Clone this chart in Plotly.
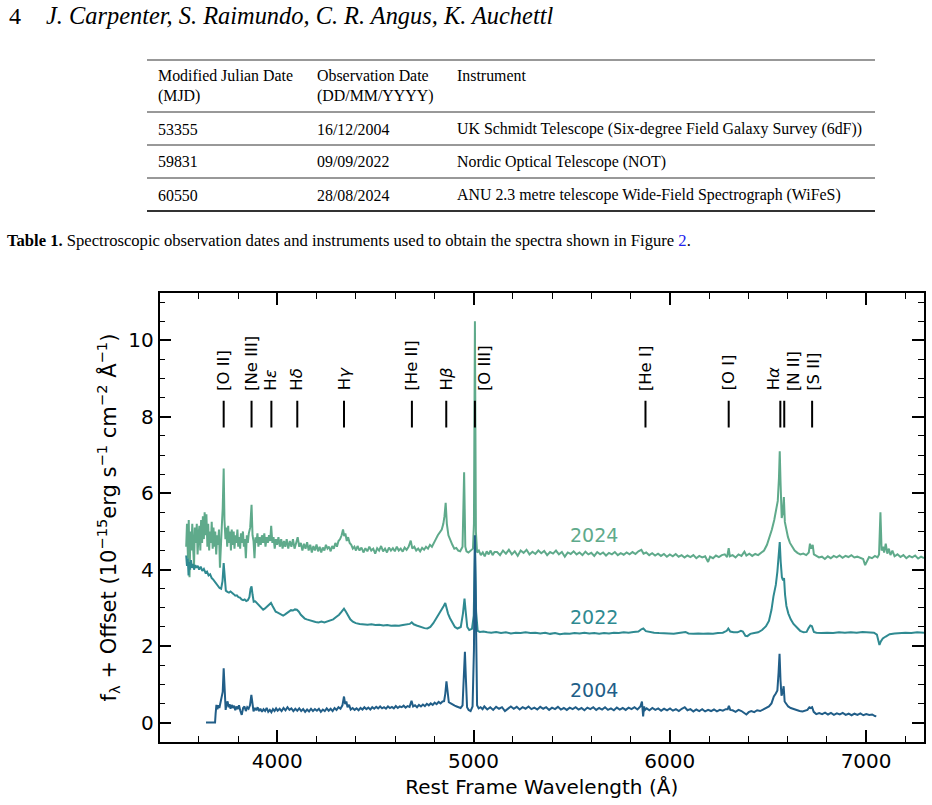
import plotly.graph_objects as go

W, H = 932, 805

# ---------------- data ----------------
years = ["2024", "2022", "2004"]
colors = ["#5faa8b", "#2f8a91", "#215e88"]

wave_2024 = [3536, 3540, 3545, 3549, 3553, 3558, 3562, 3567, 3571, 3576, 3580, 3585, 3590, 3594, 3599, 3603, 3608, 3612, 3617, 3621,
             3626, 3630, 3635, 3639, 3644, 3648, 3653, 3657, 3662, 3666, 3671, 3675, 3680, 3684, 3689, 3694, 3698, 3703, 3708, 3713,
             3718, 3722, 3727, 3731, 3736, 3740, 3745, 3750, 3754, 3759, 3764, 3768, 3773, 3778, 3782, 3787, 3792, 3797, 3801, 3806,
             3811, 3815, 3820, 3825, 3830, 3835, 3840, 3845, 3850, 3855, 3862, 3869, 3874, 3879, 3884, 3889, 3894, 3899, 3904, 3910,
             3916, 3922, 3928, 3934, 3940, 3946, 3952, 3958, 3964, 3969, 3975, 3981, 3987, 3993, 3999, 4006, 4013, 4020, 4027, 4034,
             4041, 4048, 4056, 4064, 4072, 4080, 4088, 4096, 4104, 4112, 4120, 4128, 4136, 4144, 4152, 4160, 4168, 4176, 4184, 4192,
             4200, 4208, 4216, 4224, 4232, 4240, 4248, 4256, 4264, 4272, 4280, 4288, 4296, 4304, 4312, 4320, 4328, 4335, 4341, 4347,
             4354, 4361, 4369, 4377, 4385, 4393, 4401, 4409, 4419, 4429, 4439, 4449, 4459, 4469, 4479, 4489, 4499, 4509, 4519, 4529,
             4539, 4549, 4559, 4569, 4579, 4589, 4599, 4609, 4619, 4629, 4639, 4649, 4659, 4669, 4680, 4688, 4698, 4708, 4718, 4728,
             4738, 4748, 4758, 4768, 4778, 4788, 4798, 4808, 4818, 4828, 4838, 4846, 4852, 4858, 4864, 4872, 4882, 4892, 4902, 4912,
             4922, 4932, 4944, 4952, 4958, 4964, 4974, 4986, 4997, 5002, 5007, 5012, 5018, 5027, 5037, 5047, 5057, 5067, 5077, 5087,
             5097, 5107, 5120, 5135, 5150, 5165, 5180, 5195, 5210, 5225, 5240, 5255, 5270, 5285, 5300, 5315, 5330, 5345, 5360, 5375,
             5390, 5405, 5420, 5435, 5450, 5465, 5480, 5495, 5510, 5525, 5540, 5555, 5570, 5585, 5600, 5615, 5630, 5645, 5660, 5675,
             5690, 5705, 5720, 5735, 5750, 5765, 5780, 5795, 5810, 5825, 5840, 5855, 5866, 5880, 5895, 5910, 5925, 5940, 5955, 5970,
             5985, 6000, 6015, 6030, 6045, 6060, 6075, 6090, 6105, 6120, 6135, 6150, 6165, 6180, 6195, 6205, 6220, 6235, 6250, 6265,
             6280, 6292, 6300, 6306, 6320, 6335, 6350, 6365, 6380, 6390, 6405, 6420, 6435, 6450, 6465, 6480, 6495, 6508, 6520, 6532,
             6542, 6550, 6556, 6560, 6564, 6570, 6576, 6581, 6586, 6594, 6602, 6612, 6624, 6636, 6650, 6665, 6680, 6695, 6708, 6714,
             6720, 6728, 6734, 6745, 6760, 6775, 6790, 6805, 6820, 6835, 6850, 6865, 6880, 6895, 6910, 6925, 6940, 6955, 6970, 6985,
             6995, 7005, 7015, 7030, 7045, 7058, 7066, 7073, 7079, 7086, 7092, 7100, 7108, 7116, 7124, 7134, 7145, 7160, 7175, 7190,
             7205, 7220, 7235, 7250, 7265, 7280, 7295]
flux_2024 = [4.6, 5.2, 4.3, 5.3, 3.8, 5.0, 4.5, 5.2, 4.6, 4.1, 5.1, 4.7, 5.2, 4.4, 4.9, 5.15, 4.5, 5.3, 4.7, 5.4,
             4.8, 5.5, 4.9, 5.45, 4.6, 5.2, 4.5, 5.0, 4.7, 5.25, 4.55, 5.1, 4.6, 5.0, 4.4, 4.9, 4.65, 5.05, 4.05, 4.9,
             5.2, 5.6, 6.65, 5.3, 4.8, 5.1, 4.6, 5.15, 4.7, 5.0, 4.5, 5.05, 4.65, 5.0, 4.55, 4.9, 4.7, 5.05, 4.6, 4.85,
             4.55, 4.95, 4.7, 5.0, 4.6, 4.8, 4.3, 4.9, 4.7, 4.95, 5.1, 5.7, 4.9, 4.75, 4.3, 4.85, 4.7, 4.95, 4.6, 4.85,
             4.65, 4.9, 4.7, 4.95, 4.6, 4.85, 4.7, 4.9, 4.75, 5.15, 4.7, 4.85, 4.55, 4.8, 4.65, 4.85, 4.6, 4.8, 4.55, 4.75,
             4.6, 4.8, 4.55, 4.75, 4.6, 4.8, 4.55, 4.7, 4.85, 4.6, 4.7, 4.5, 4.68, 4.55, 4.72, 4.5, 4.65, 4.45, 4.62, 4.5,
             4.66, 4.48, 4.6, 4.45, 4.58, 4.5, 4.65, 4.55, 4.6, 4.48, 4.62, 4.55, 4.7, 4.6, 4.75, 4.8, 4.9, 5.05, 4.88, 4.95,
             4.75, 4.85, 4.7, 4.65, 4.55, 4.6, 4.5, 4.62, 4.5, 4.58, 4.45, 4.56, 4.48, 4.6, 4.5, 4.55, 4.42, 4.56, 4.5, 4.62,
             4.48, 4.55, 4.45, 4.58, 4.5, 4.56, 4.48, 4.6, 4.5, 4.55, 4.47, 4.58, 4.52, 4.6, 4.76, 4.55, 4.6, 4.5, 4.55, 4.48,
             4.57, 4.52, 4.6, 4.55, 4.65, 4.6, 4.72, 4.8, 4.9, 4.98, 5.05, 5.2, 5.4, 5.75, 5.2, 4.9, 4.75, 4.65, 4.55, 4.57,
             4.5, 4.48, 4.6, 6.55, 4.6, 4.48, 4.45, 4.5, 4.55, 5.2, 10.5, 5.0, 4.45, 4.5, 4.38, 4.45, 4.35, 4.48, 4.4, 4.5,
             4.38, 4.46, 4.46, 4.38, 4.5, 4.42, 4.52, 4.4, 4.48, 4.36, 4.5, 4.44, 4.52, 4.4, 4.47, 4.41, 4.5, 4.43, 4.49, 4.38,
             4.46, 4.42, 4.5, 4.4, 4.46, 4.34, 4.45, 4.41, 4.48, 4.4, 4.45, 4.38, 4.47, 4.4, 4.44, 4.36, 4.46, 4.4, 4.45, 4.37,
             4.44, 4.4, 4.46, 4.38, 4.43, 4.39, 4.45, 4.4, 4.46, 4.41, 4.48, 4.52, 4.42, 4.45, 4.38, 4.43, 4.37, 4.42, 4.36, 4.41,
             4.34, 4.4, 4.35, 4.41, 4.34, 4.38, 4.32, 4.37, 4.33, 4.38, 4.3, 4.36, 4.32, 4.35, 4.2, 4.34, 4.3, 4.37, 4.33, 4.38,
             4.4, 4.33, 4.56, 4.35, 4.38, 4.32, 4.4, 4.36, 4.47, 4.37, 4.42, 4.36, 4.41, 4.38, 4.44, 4.5, 4.65, 4.85, 5.05, 5.3,
             5.55, 5.8, 6.4, 7.1, 6.3, 5.35, 5.5, 5.9, 5.25, 5.0, 4.85, 4.7, 4.58, 4.5, 4.44, 4.4, 4.42, 4.38, 4.45, 4.68,
             4.55, 4.65, 4.4, 4.36, 4.32, 4.34, 4.28, 4.35, 4.3, 4.36, 4.32, 4.37, 4.31, 4.36, 4.33, 4.38, 4.32, 4.34, 4.3, 4.28,
             4.12, 4.25, 4.33, 4.3, 4.36, 4.32, 4.4, 5.5, 4.5, 4.6, 4.45, 4.68, 4.42, 4.55, 4.38, 4.5, 4.35, 4.4, 4.33, 4.38,
             4.3, 4.36, 4.32, 4.37, 4.29, 4.34, 4.3]

wave_2022 = [3536, 3540, 3544, 3548, 3552, 3556, 3560, 3565, 3570, 3576, 3582, 3588, 3595, 3602, 3610, 3618, 3626, 3634, 3642, 3650,
             3658, 3666, 3674, 3682, 3690, 3698, 3706, 3714, 3721, 3727, 3732, 3738, 3746, 3754, 3762, 3770, 3778, 3786, 3794, 3802,
             3810, 3818, 3826, 3834, 3842, 3850, 3858, 3864, 3869, 3874, 3880, 3888, 3896, 3904, 3912, 3920, 3928, 3936, 3944, 3952,
             3960, 3968, 3976, 3984, 3992, 4000, 4010, 4020, 4030, 4040, 4050, 4060, 4070, 4080, 4090, 4100, 4110, 4120, 4130, 4140,
             4150, 4165, 4180, 4195, 4210, 4225, 4240, 4255, 4270, 4285, 4300, 4315, 4328, 4340, 4350, 4360, 4372, 4385, 4400, 4420,
             4440, 4460, 4480, 4500, 4520, 4540, 4560, 4580, 4600, 4620, 4640, 4660, 4675, 4685, 4695, 4710, 4730, 4750, 4765, 4780,
             4795, 4810, 4825, 4838, 4848, 4856, 4862, 4870, 4880, 4892, 4905, 4918, 4935, 4946, 4954, 4960, 4968, 4978, 4992, 5001,
             5007, 5013, 5021, 5032, 5050, 5070, 5090, 5115, 5140, 5165, 5190, 5215, 5240, 5265, 5290, 5315, 5340, 5365, 5390, 5415,
             5440, 5465, 5490, 5515, 5540, 5565, 5590, 5615, 5640, 5665, 5690, 5715, 5740, 5765, 5790, 5815, 5840, 5855, 5865, 5878,
             5895, 5920, 5945, 5970, 5995, 6020, 6045, 6065, 6080, 6095, 6120, 6145, 6170, 6195, 6220, 6245, 6270, 6290, 6298, 6308,
             6325, 6345, 6362, 6372, 6385, 6395, 6410, 6430, 6450, 6470, 6490, 6505, 6518, 6528, 6540, 6548, 6554, 6560, 6565, 6571,
             6577, 6582, 6587, 6594, 6604, 6616, 6630, 6647, 6664, 6682, 6697, 6707, 6716, 6724, 6734, 6747, 6772, 6802, 6832, 6862,
             6892, 6922, 6952, 6982, 7012, 7040, 7055, 7063, 7068, 7075, 7085, 7100, 7120, 7145, 7170, 7200, 7230, 7260, 7295]
flux_2022 = [4.37, 4.1, 4.3, 3.85, 4.2, 4.0, 4.25, 4.05, 4.15, 4.0, 4.12, 4.05, 4.1, 4.0, 4.08, 3.97, 4.02, 3.92, 3.95, 3.85,
             3.88, 3.78, 3.74, 3.68, 3.62, 3.58, 3.52, 3.5, 3.7, 4.17, 3.7, 3.45, 3.42, 3.4, 3.43, 3.38, 3.36, 3.32, 3.33, 3.28,
             3.27, 3.22, 3.2, 3.22, 3.18, 3.2, 3.28, 3.5, 3.56, 3.35, 3.16, 3.17, 3.12, 3.1, 3.05, 3.0, 2.95, 2.98, 3.02, 3.05,
             3.1, 3.13, 3.05, 2.95, 2.9, 2.88, 2.85, 2.82, 2.8, 2.83, 2.87, 2.9, 2.94, 2.93, 2.96, 2.95, 2.9, 2.82, 2.76, 2.72,
             2.7, 2.67, 2.65, 2.63, 2.62, 2.64, 2.62, 2.65, 2.66, 2.7, 2.76, 2.82, 2.9, 2.98, 2.9, 2.8, 2.7, 2.64, 2.6, 2.58,
             2.57, 2.56, 2.57, 2.55, 2.56, 2.54, 2.55, 2.53, 2.54, 2.53, 2.55, 2.56, 2.58, 2.62, 2.57, 2.54, 2.5, 2.47, 2.46, 2.5,
             2.6, 2.72, 2.85, 2.95, 3.05, 3.13, 3.0, 2.85, 2.73, 2.6, 2.5, 2.46, 2.5, 2.85, 3.24, 2.9, 2.5, 2.42, 2.45, 2.8,
             4.6, 2.9, 2.4, 2.37, 2.38, 2.36, 2.35, 2.37, 2.34, 2.36, 2.33, 2.35, 2.34, 2.36, 2.34, 2.35, 2.33, 2.35, 2.32, 2.34,
             2.31, 2.33, 2.32, 2.34, 2.33, 2.35, 2.33, 2.34, 2.32, 2.34, 2.33, 2.35, 2.34, 2.36, 2.35, 2.37, 2.38, 2.44, 2.46, 2.39,
             2.37, 2.35, 2.34, 2.33, 2.33, 2.32, 2.34, 2.36, 2.37, 2.33, 2.32, 2.33, 2.32, 2.33, 2.32, 2.34, 2.35, 2.4, 2.46, 2.38,
             2.36, 2.36, 2.4, 2.38, 2.27, 2.26, 2.32, 2.34, 2.36, 2.42, 2.52, 2.66, 2.95, 3.3, 3.6, 3.95, 4.45, 4.72, 4.2, 3.8,
             3.72, 3.78, 3.35, 3.05, 2.85, 2.7, 2.58, 2.48, 2.4, 2.36, 2.37, 2.47, 2.54, 2.52, 2.37, 2.35, 2.34, 2.35, 2.34, 2.36,
             2.35, 2.36, 2.35, 2.37, 2.36, 2.35, 2.3, 2.12, 2.03, 2.12, 2.2, 2.25, 2.31, 2.33, 2.34, 2.35, 2.34, 2.36, 2.35]

wave_2004 = [3637, 3683, 3686, 3690, 3695, 3700, 3705, 3710, 3716, 3722, 3727, 3732, 3737, 3742, 3747, 3752, 3757, 3762, 3768, 3774,
             3780, 3786, 3792, 3798, 3805, 3812, 3819, 3826, 3833, 3840, 3847, 3854, 3861, 3868, 3873, 3879, 3886, 3893, 3900, 3907,
             3914, 3922, 3930, 3938, 3946, 3954, 3962, 3970, 3978, 3986, 3994, 4002, 4012, 4022, 4032, 4042, 4052, 4062, 4072, 4082,
             4092, 4102, 4112, 4122, 4132, 4142, 4152, 4162, 4172, 4182, 4192, 4202, 4212, 4222, 4232, 4242, 4252, 4262, 4272, 4282,
             4292, 4302, 4312, 4322, 4332, 4340, 4346, 4352, 4358, 4366, 4374, 4384, 4394, 4404, 4414, 4424, 4434, 4444, 4454, 4464,
             4474, 4484, 4494, 4504, 4514, 4524, 4534, 4544, 4554, 4564, 4574, 4584, 4594, 4604, 4614, 4624, 4634, 4644, 4654, 4664,
             4674, 4684, 4692, 4702, 4712, 4722, 4732, 4742, 4752, 4762, 4772, 4782, 4792, 4802, 4812, 4822, 4832, 4842, 4850, 4856,
             4862, 4868, 4874, 4884, 4894, 4904, 4914, 4924, 4934, 4944, 4951, 4956, 4961, 4967, 4975, 4985, 4995, 5002, 5007, 5012,
             5018, 5026, 5036, 5046, 5055, 5070, 5085, 5100, 5115, 5130, 5145, 5160, 5175, 5190, 5205, 5220, 5235, 5250, 5265, 5280,
             5295, 5310, 5325, 5340, 5355, 5370, 5385, 5400, 5415, 5430, 5445, 5460, 5475, 5490, 5505, 5520, 5535, 5550, 5565, 5580,
             5595, 5610, 5625, 5640, 5655, 5670, 5685, 5700, 5715, 5730, 5745, 5760, 5775, 5790, 5805, 5820, 5835, 5850, 5858, 5864,
             5869, 5874, 5882, 5896, 5911, 5926, 5941, 5956, 5971, 5986, 6001, 6016, 6031, 6046, 6061, 6076, 6090, 6105, 6120, 6135,
             6150, 6165, 6180, 6195, 6210, 6225, 6240, 6255, 6270, 6285, 6295, 6301, 6308, 6320, 6335, 6350, 6365, 6378, 6390, 6402,
             6415, 6430, 6445, 6460, 6475, 6490, 6505, 6518, 6530, 6540, 6548, 6554, 6559, 6564, 6569, 6575, 6580, 6585, 6593, 6603,
             6616, 6631, 6646, 6661, 6676, 6691, 6701, 6711, 6717, 6725, 6733, 6746, 6761, 6776, 6791, 6806, 6821, 6836, 6851, 6866,
             6881, 6896, 6911, 6926, 6941, 6956, 6971, 6986, 7001, 7016, 7031, 7045, 7052]
flux_2004 = [0.0, 0.0, 0.24, 0.46, 0.35, 0.45, 0.38, 0.5, 0.62, 0.8, 1.42, 0.75, 0.33, 0.5, 0.55, 0.4, 0.48, 0.36, 0.46, 0.38,
             0.44, 0.32, 0.42, 0.35, 0.45, 0.3, 0.2, 0.38, 0.42, 0.3, 0.4, 0.36, 0.45, 0.72, 0.45, 0.29, 0.38, 0.32, 0.4, 0.3,
             0.36, 0.28, 0.35, 0.3, 0.38, 0.28, 0.33, 0.27, 0.35, 0.3, 0.37, 0.31, 0.36, 0.3, 0.38, 0.32, 0.4, 0.33, 0.37, 0.3,
             0.36, 0.31, 0.37, 0.3, 0.35, 0.28, 0.34, 0.29, 0.36, 0.3, 0.35, 0.31, 0.36, 0.28, 0.34, 0.3, 0.37, 0.31, 0.36, 0.3,
             0.38, 0.33, 0.4, 0.36, 0.45, 0.68, 0.48, 0.55, 0.4, 0.46, 0.34, 0.38, 0.33, 0.37, 0.32, 0.38, 0.34, 0.4, 0.35, 0.39,
             0.34, 0.4, 0.36, 0.41, 0.37, 0.42, 0.37, 0.4, 0.36, 0.42, 0.38, 0.41, 0.37, 0.43, 0.38, 0.42, 0.4, 0.44, 0.39, 0.43,
             0.41, 0.57, 0.42, 0.45, 0.4, 0.46, 0.42, 0.47, 0.43, 0.49, 0.45, 0.5, 0.46, 0.52, 0.48, 0.54, 0.5, 0.55, 0.56, 0.75,
             1.08, 0.7, 0.53, 0.5, 0.46, 0.44, 0.42, 0.4, 0.38, 0.45, 1.2, 1.85, 1.15, 0.4, 0.33, 0.3, 0.42, 1.9, 4.9, 2.2,
             0.45, 0.37, 0.4, 0.35, 0.42, 0.34, 0.4, 0.33, 0.41, 0.36, 0.4, 0.3, 0.35, 0.42, 0.36, 0.41, 0.34, 0.4, 0.36, 0.42,
             0.35, 0.39, 0.34, 0.41, 0.36, 0.4, 0.33, 0.39, 0.35, 0.41, 0.34, 0.38, 0.33, 0.39, 0.35, 0.4, 0.34, 0.38, 0.32, 0.39,
             0.35, 0.4, 0.33, 0.38, 0.34, 0.4, 0.33, 0.37, 0.32, 0.39, 0.34, 0.38, 0.33, 0.39, 0.35, 0.4, 0.34, 0.42, 0.55, 0.16,
             0.42, 0.33, 0.37, 0.32, 0.38, 0.33, 0.37, 0.31, 0.36, 0.32, 0.37, 0.31, 0.35, 0.3, 0.36, 0.4, 0.32, 0.35, 0.29, 0.34,
             0.3, 0.35, 0.29, 0.33, 0.3, 0.34, 0.29, 0.33, 0.31, 0.35, 0.35, 0.44, 0.33, 0.32, 0.28, 0.33, 0.3, 0.26, 0.21, 0.27,
             0.3, 0.27, 0.32, 0.3, 0.34, 0.37, 0.42, 0.5, 0.68, 0.76, 0.84, 1.3, 1.8, 1.1, 0.7, 0.8, 0.95, 0.55, 0.48, 0.42,
             0.38, 0.35, 0.33, 0.3, 0.29, 0.31, 0.33, 0.4, 0.38, 0.4, 0.28, 0.22, 0.25, 0.22, 0.26, 0.21, 0.25, 0.2, 0.24, 0.21,
             0.25, 0.2, 0.23, 0.19, 0.23, 0.2, 0.24, 0.19, 0.22, 0.2, 0.21, 0.17, 0.16]

label_pos = [(5614, 4.92), (5614, 2.77), (5614, 0.86)]

line_names = ["[O II]", "[Ne III]", "H<i>ε</i>", "H<i>δ</i>", "H<i>γ</i>", "[He II]", "H<i>β</i>", "[O III]",
              "[He I]", "[O I]", "H<i>α</i>", "[N II]", "[S II]"]
line_waves = [3727, 3869, 3970, 4102, 4340, 4686, 4861, 5007, 5876, 6300, 6563, 6583, 6725]
label_x = [3727, 3865, 3965, 4098, 4340, 4686, 4861, 5055, 5876, 6300, 6526, 6630, 6735]

x_ticks = [4000, 5000, 6000, 7000]
y_ticks = [0, 2, 4, 6, 8, 10]

table_header = [["Modified Julian Date", "(MJD)"], ["Observation Date", "(DD/MM/YYYY)"], ["Instrument", ""]]
table_rows = [["53355", "16/12/2004", "UK Schmidt Telescope (Six-degree Field Galaxy Survey (6dF))"],
              ["59831", "09/09/2022", "Nordic Optical Telescope (NOT)"],
              ["60550", "28/08/2024", "ANU 2.3 metre telescope Wide-Field Spectrograph (WiFeS)"]]

# ---------------- figure ----------------
def px(x):
    return x / W

def py(y):
    return 1 - y / H

fig = go.Figure()
spectra = {"2024": (wave_2024, flux_2024), "2022": (wave_2022, flux_2022), "2004": (wave_2004, flux_2004)}
for yr, col in zip(years, colors):
    wv, fl = spectra[yr]
    fig.add_trace(go.Scatter(x=wv, y=fl, mode="lines", line=dict(color=col, width=2), hoverinfo="skip",
                             showlegend=False))

# emission line markers
mx, my = [], []
for w in line_waves:
    mx += [w, w, None]
    my += [7.72, 8.42, None]
fig.add_trace(go.Scatter(x=mx, y=my, mode="lines", line=dict(color="black", width=2), hoverinfo="skip",
                         showlegend=False))

for name, lx in zip(line_names, label_x):
    fig.add_annotation(x=lx, y=8.63, xref="x", yref="y", text=name, textangle=-90, showarrow=False,
                       xanchor="center", yanchor="bottom", font=dict(family="DejaVu Sans", size=16.5, color="black"))

for yr, col, (lx, ly) in zip(years, colors, label_pos):
    fig.add_annotation(x=lx, y=ly, xref="x", yref="y", text=yr, showarrow=False,
                       font=dict(family="DejaVu Sans", size=19, color=col))

axis_common = dict(showline=True, linecolor="black", linewidth=1.5, mirror="allticks", ticks="inside",
                   tickcolor="black", ticklen=12, tickwidth=1.8, showgrid=False, zeroline=False,
                   tickfont=dict(family="DejaVu Sans", size=20, color="black"))

fig.update_layout(
    width=W, height=H, margin=dict(l=0, r=0, t=0, b=0), paper_bgcolor="white", plot_bgcolor="white",
    xaxis=dict(domain=[px(159.5), px(924)], range=[3400, 7295], tickvals=x_ticks,
               minor=dict(ticks="inside", dtick=200, tick0=0, ticklen=6, tickwidth=1.2, tickcolor="black"),
               title=dict(text="Rest Frame Wavelength (Å)", font=dict(family="DejaVu Sans", size=20, color="black"),
                          standoff=8),
               **axis_common),
    yaxis=dict(domain=[py(742), py(293)], range=[-0.51, 11.24], tickvals=y_ticks,
               minor=dict(ticks="inside", dtick=0.5, tick0=0, ticklen=6, tickwidth=1.2, tickcolor="black"),
               title=dict(text="f<sub>λ</sub> + Offset (10<sup>−15</sup>erg s<sup>−1</sup> cm<sup>−2</sup> Å<sup>−1</sup>)",
                          font=dict(family="DejaVu Sans", size=21, color="black"), standoff=6),
               **axis_common),
)

# ---------------- page text ----------------
serif = "Liberation Serif"
fig.add_annotation(x=px(7), y=py(16), xref="paper", yref="paper", text="4", showarrow=False,
                   xanchor="left", yanchor="middle", font=dict(family=serif, size=24, color="black"))
fig.add_annotation(x=px(44), y=py(16), xref="paper", yref="paper",
                   text="<i>J. Carpenter, S. Raimundo, C. R. Angus, K. Auchettl</i>", showarrow=False,
                   xanchor="left", yanchor="middle", font=dict(family=serif, size=24.4, color="black"))

col_x = [156, 315, 455]
for cx, (h1, h2) in zip(col_x, table_header):
    fig.add_annotation(x=px(cx), y=py(76), xref="paper", yref="paper", text=h1, showarrow=False,
                       xanchor="left", yanchor="middle", font=dict(family=serif, size=15.9, color="black"))
    if h2:
        fig.add_annotation(x=px(cx), y=py(96), xref="paper", yref="paper", text=h2, showarrow=False,
                           xanchor="left", yanchor="middle", font=dict(family=serif, size=15.9, color="black"))
row_y = [129, 162, 195]
for ry, row in zip(row_y, table_rows):
    for cx, cell in zip(col_x, row):
        fig.add_annotation(x=px(cx), y=py(ry), xref="paper", yref="paper", text=cell, showarrow=False,
                           xanchor="left", yanchor="middle", font=dict(family=serif, size=15.9, color="black"))

for ly, lw in [(60, 1.2), (112, 1.0), (145, 1.0), (178, 1.0), (211, 2.0)]:
    fig.add_shape(type="line", xref="paper", yref="paper", x0=px(147), x1=px(875), y0=py(ly), y1=py(ly),
                  line=dict(color="#333333", width=lw))

fig.add_annotation(x=px(5), y=py(240), xref="paper", yref="paper",
                   text="<b>Table 1.</b> Spectroscopic observation dates and instruments used to obtain the spectra shown in Figure <span style='color:#2020ee'>2</span>.",
                   showarrow=False, xanchor="left", yanchor="middle", font=dict(family=serif, size=16.6, color="black"))

fig.write_html("out.html")
